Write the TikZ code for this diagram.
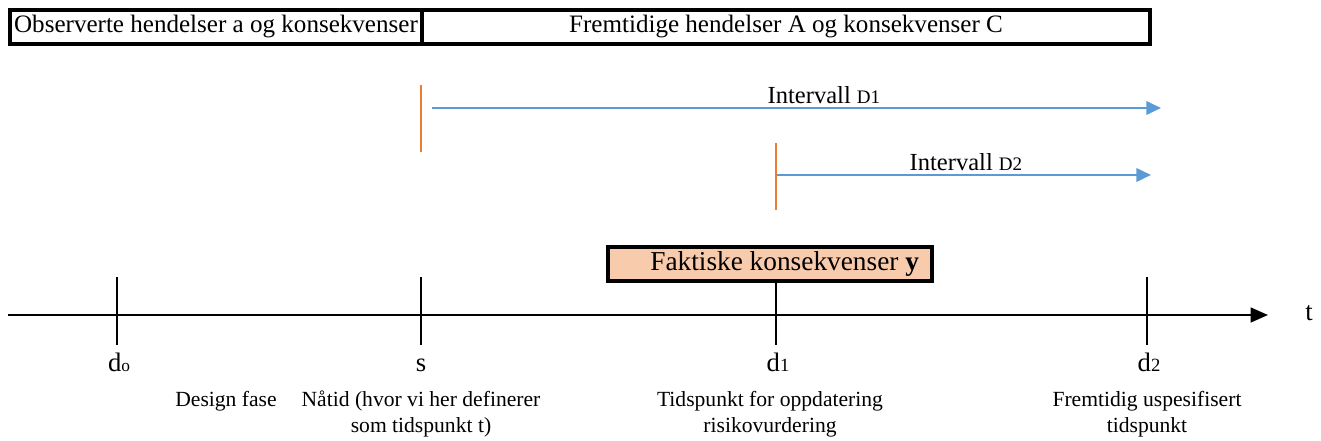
\documentclass[tikz,border=0pt]{standalone}
\usepackage{fontspec}
\setmainfont{Liberation Serif}
\usetikzlibrary{arrows.meta}
\definecolor{peach}{HTML}{F8CBAD}
\definecolor{tickorange}{HTML}{ED7D31}
\definecolor{intblue}{HTML}{5B9BD5}
\begin{document}
\begin{tikzpicture}[x=0.75pt,y=-0.75pt,
  hdrbox/.style={draw=black,line width=2.8pt,minimum height=34*0.75pt,inner sep=0pt,font=\fontsize{18.8}{20}\selectfont},
  tick/.style={line width=2.1pt},
  starttick/.style={draw=tickorange,line width=2.2pt},
  interval/.style={draw=intblue,line width=2pt,-{Triangle[length=11pt,width=10pt]}},
  lbl/.style={font=\fontsize{18.4}{20}\selectfont,inner sep=0pt},
  ptlbl/.style={font=\fontsize{20}{22}\selectfont,inner sep=0pt},
  desc/.style={font=\fontsize{16.2}{19.5}\selectfont,align=center,inner sep=0pt}]
\useasboundingbox (0,0) rectangle (1321,441);
% header boxes
\node[hdrbox,minimum width=412*0.75pt] (obs) at (216,27) {Observerte hendelser a og konsekvenser};
\node[hdrbox,minimum width=728*0.75pt] (fut) at (786,27) {Fremtidige hendelser A og konsekvenser C};
% intervals
\coordinate (s1a) at (421,85); \coordinate (s1b) at (421,152);
\draw[starttick] (s1a) -- (s1b);
\coordinate (i1a) at (432,108); \coordinate (i1b) at (1161,108);
\draw[interval] (i1a) -- (i1b);
\node[lbl,anchor=base] (i1l) at (824,104) {Intervall {\fontsize{14.3}{14}\selectfont D1}};
\coordinate (s2a) at (776,143); \coordinate (s2b) at (776,210);
\draw[starttick] (s2a) -- (s2b);
\coordinate (i2a) at (777,175); \coordinate (i2b) at (1151,175);
\draw[interval] (i2a) -- (i2b);
\node[lbl,anchor=base] (i2l) at (966,171) {Intervall {\fontsize{14.3}{14}\selectfont D2}};
% time axis
\coordinate (ax0) at (8,315); \coordinate (ax1) at (1268,315);
\node[ptlbl] (t) at (1309,313) {t};
\foreach \n/\x in {d0/117,s/421,d1/776,d2/1147}{
  \coordinate (\n top) at (\x,277); \coordinate (\n bot) at (\x,345);
  \draw[tick] (\n top) -- (\n bot);
}
\node[draw=black,line width=2.8pt,fill=peach,minimum width=324*0.75pt,minimum height=34*0.75pt,inner sep=0pt,font=\fontsize{20.5}{22}\selectfont] (fak) at (770,264) {\hspace*{22pt}Faktiske konsekvenser \textbf{y}};
\draw[line width=1.8pt,-{Triangle[length=13pt,width=11pt]}] (ax0) -- (ax1);
% point labels
\node[ptlbl,anchor=base] (ld0) at (119,372) {d{\fontsize{13}{13}\selectfont o}};
\node[ptlbl,anchor=base] (ls) at (421,372) {s};
\node[ptlbl,anchor=base] (ld1) at (778,372) {d{\fontsize{14}{14}\selectfont 1}};
\node[ptlbl,anchor=base] (ld2) at (1149,372) {d{\fontsize{14}{14}\selectfont 2}};
\node[desc,anchor=base] (dd) at (226,407) {Design fase};
\node[desc,anchor=north] (dn) at (421,391) {Nåtid (hvor vi her definerer\\som tidspunkt t)};
\node[desc,anchor=north] (dt) at (770,391) {Tidspunkt for oppdatering\\risikovurdering};
\node[desc,anchor=north] (df) at (1147,391) {Fremtidig uspesifisert\\tidspunkt};
\end{tikzpicture}
\end{document}
